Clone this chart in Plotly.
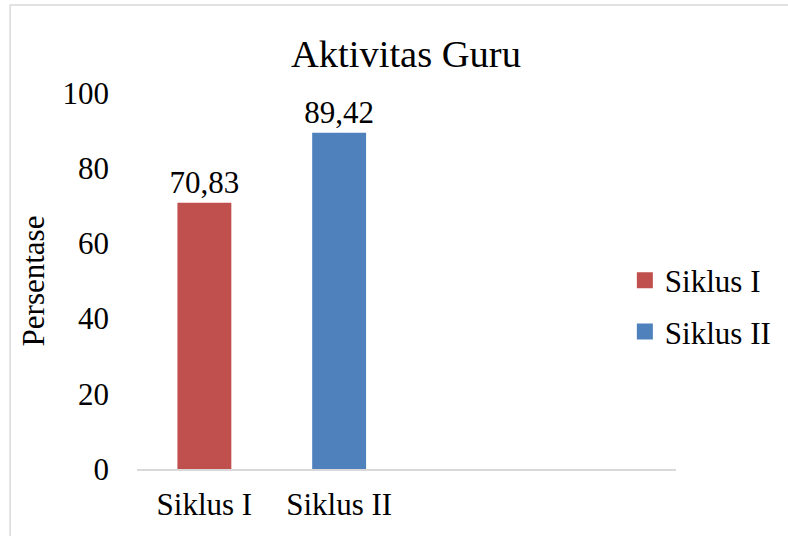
import plotly.graph_objects as go

categories = ["Siklus I", "Siklus II"]
values = [70.83, 89.42]
series_names = ["Siklus I", "Siklus II"]
colors = ["#C0504D", "#4F81BD"]
y_ticks = [0, 20, 40, 60, 80, 100]

FONT = "Liberation Serif"

fig = go.Figure()
for cat, val, name, col in zip(categories, values, series_names, colors):
    fig.add_trace(go.Bar(
        x=[cat], y=[val], name=name, showlegend=False,
        marker=dict(color=col, line=dict(width=0)),
        width=0.4,
        text=[val], texttemplate="%{y:.2f}", textposition="outside",
        constraintext="none",
        textfont=dict(family=FONT, size=31, color="black"),
        cliponaxis=False,
    ))
    # legend entries (square swatches)
    fig.add_trace(go.Scatter(
        x=[None], y=[None], mode="markers", name=name, legendgroup=name,
        marker=dict(symbol="square", size=20, color=col),
    ))

L, R, T, B = 137, 103, 93, 67
W, H = 788, 536
pw, ph = W - L - R, H - T - B

fig.update_layout(
    width=W, height=H,
    margin=dict(l=L, r=R, t=T, b=B, pad=0),
    paper_bgcolor="white", plot_bgcolor="white",
    separators=",.",
    barmode="overlay",
    font=dict(family=FONT, color="black", size=31),
    title=dict(text="Aktivitas Guru", x=406 / W, xref="container", xanchor="center",
               y=1 - 54 / H, yref="container", yanchor="middle",
               font=dict(family=FONT, size=38.5, color="black")),
    legend=dict(x=(633 - L) / pw, y=(469 - 306) / ph, xanchor="left", yanchor="middle",
                font=dict(family=FONT, size=31, color="black"),
                tracegroupgap=8, itemsizing="trace",
                bgcolor="rgba(0,0,0,0)", itemclick=False),
    xaxis=dict(type="category", categoryorder="array", categoryarray=categories,
               range=[-0.5, 3.5], showgrid=False, showline=True, linecolor="#D9D9D9",
               linewidth=1.5, ticks="", ticklabelstandoff=7, automargin=False,
               tickfont=dict(family=FONT, size=31, color="black"), fixedrange=True),
    yaxis=dict(range=[0, 100], tickvals=y_ticks, showgrid=False, showline=False,
               zeroline=False, ticks="", ticklabelstandoff=27, automargin=False,
               tickfont=dict(family=FONT, size=31, color="black"),
               title=dict(text="Persentase", font=dict(family=FONT, size=31, color="black"),
                          standoff=8)),
    shapes=[dict(type="rect", xref="paper", yref="paper",
                 x0=(8 - L) / pw, x1=(800 - L) / pw,
                 y0=(469 - 560) / ph, y1=(469 - 5) / ph,
                 line=dict(color="#D9D9D9", width=1.5), fillcolor="rgba(0,0,0,0)", layer="below")],
)

fig.write_html("out.html", config={"displayModeBar": False},
               post_script="document.body.style.margin='0';")
